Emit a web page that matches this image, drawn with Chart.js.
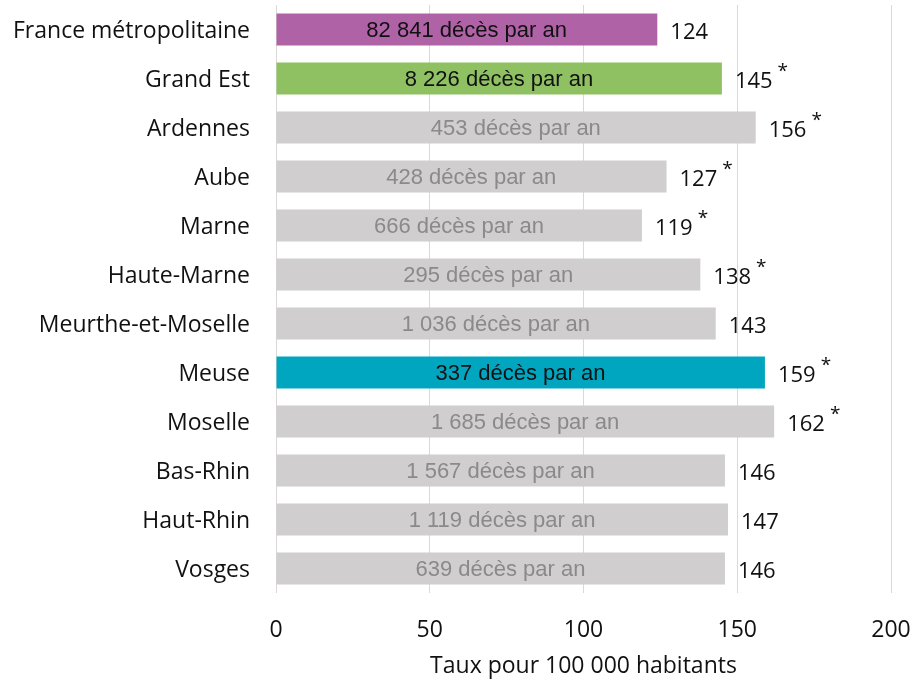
<!DOCTYPE html>
<html lang="fr">
<head>
<meta charset="utf-8">
<script src="https://cdn.jsdelivr.net/npm/chart.js@4"></script>
<style>
  html, body { margin: 0; padding: 0; background: #ffffff; }
  #wrap { width: 912px; height: 680px; }
</style>
</head>
<body>
<div id="wrap"><canvas id="c" width="912" height="680"></canvas></div>
<script>
// Territoires
const categories = [
  'France métropolitaine', 'Grand Est', 'Ardennes', 'Aube', 'Marne', 'Haute-Marne',
  'Meurthe-et-Moselle', 'Meuse', 'Moselle', 'Bas-Rhin', 'Haut-Rhin', 'Vosges'
];
// Taux pour 100 000 habitants
const rates = [124, 145, 156, 127, 119, 138, 143, 159, 162, 146, 147, 146];
// Nombre de décès par an
const deaths = ['82 841', '8 226', '453', '428', '666', '295', '1 036', '337', '1 685', '1 567', '1 119', '639'];
// Différence significative (astérisque)
const significant = [false, true, true, true, true, true, false, true, true, false, false, false];
const xTicks = [0, 50, 100, 150, 200];

const PURPLE = '#b062a6', GREEN = '#8fc163', TEAL = '#00a6c0', GREY = '#d0cecf';
const barColors = categories.map((c, i) => i === 0 ? PURPLE : i === 1 ? GREEN : c === 'Meuse' ? TEAL : GREY);
const innerColors = barColors.map(c => c === GREY ? '#8a8a8a' : '#111111');

const UI_FONT = '"Open Sans", "Noto Sans", sans-serif';
const ARIAL = '"Liberation Sans", Arial, sans-serif';

const barLabels = {
  id: 'barLabels',
  afterDatasetsDraw(chart) {
    const ctx = chart.ctx;
    const meta = chart.getDatasetMeta(0);
    ctx.save();
    meta.data.forEach((bar, i) => {
      const left = chart.scales.x.getPixelForValue(0);
      const cx = (left + bar.x) / 2;
      ctx.font = '22px ' + ARIAL;
      ctx.fillStyle = innerColors[i];
      ctx.textAlign = 'center';
      ctx.textBaseline = 'middle';
      ctx.fillText(deaths[i] + ' décès par an', cx, bar.y + 1);

      ctx.font = '22px ' + UI_FONT;
      ctx.fillStyle = '#111111';
      ctx.textAlign = 'left';
      const txt = String(rates[i]);
      const tx = bar.x + 13;
      ctx.fillText(txt, tx, bar.y + 3);
      if (significant[i]) {
        const w = ctx.measureText(txt).width;
        ctx.font = '19px ' + UI_FONT;
        ctx.fillText('*', tx + w + 5, bar.y - 7);
      }
    });
    ctx.restore();
  }
};

new Chart(document.getElementById('c'), {
  type: 'bar',
  data: {
    labels: categories,
    datasets: [{
      data: rates,
      backgroundColor: barColors,
      borderWidth: 0,
      barPercentage: 0.655,
      categoryPercentage: 1
    }]
  },
  options: {
    indexAxis: 'y',
    responsive: false,
    animation: false,
    devicePixelRatio: 1,
    layout: { padding: { left: 0, right: 21, top: 5, bottom: 0 } },
    plugins: { legend: { display: false }, tooltip: { enabled: false } },
    scales: {
      x: {
        min: 0, max: 200,
        afterBuildTicks(scale) { scale.ticks = xTicks.map(v => ({ value: v })); },
        grid: { color: '#d9d9d9', lineWidth: 1, drawTicks: false },
        border: { display: false },
        ticks: { color: '#111111', font: { family: UI_FONT, size: 23 }, padding: 24 },
        title: {
          display: true, text: 'Taux pour 100 000 habitants',
          color: '#111111', font: { family: UI_FONT, size: 23 },
          padding: { top: 1, bottom: 0 }
        },
        afterFit(scale) {
          scale.height = 87;
          scale.paddingLeft = 0; scale.paddingRight = 0;
        }
      },
      y: {
        grid: { display: false, drawTicks: false },
        border: { display: false },
        ticks: { color: '#111111', font: { family: UI_FONT, size: 23 }, padding: 26, labelOffset: 2 },
        afterFit(scale) {
          scale.width = 276;
          scale.paddingTop = 0; scale.paddingBottom = 0;
        }
      }
    }
  },
  plugins: [barLabels]
});
</script>
</body>
</html>
